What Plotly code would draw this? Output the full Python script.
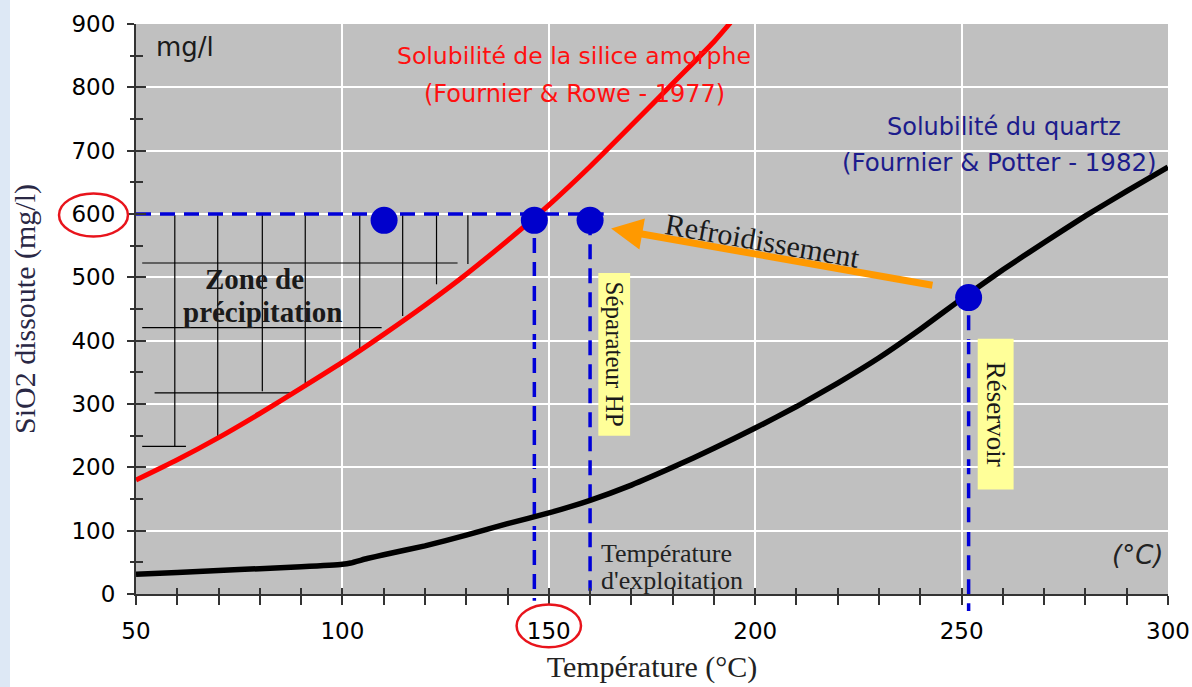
import plotly.graph_objects as go

# ---------------- data ----------------
amorph_T = [50, 60, 70, 80, 90, 100, 110, 120, 130, 140, 150, 160, 170, 180, 190, 194]
amorph_C = [180, 212, 247, 285, 325, 366, 410, 456, 505, 558, 614, 675, 740, 806, 872, 902]

quartz_T = [50, 60, 70, 80, 90, 100, 102, 106, 110, 120, 130, 140, 150, 160, 170, 180,
            190, 200, 210, 220, 230, 240, 250, 260, 270, 280, 290, 300]
quartz_C = [31, 34, 37, 40, 43, 47, 49, 56, 62, 76, 93, 111, 128, 148, 172, 200,
            230, 262, 296, 333, 373, 418, 466, 512, 555, 597, 636, 674]

point_T = [110.1, 146.5, 160.0, 251.7]
point_C = [590, 590, 590, 468]

level_C = 600           # dashed horizontal level
level_T_end = 163.3

# hatch of the precipitation zone
hatch_v_T = [59.4, 69.8, 80.6, 91.0, 104.2, 114.6, 122.8, 130.4]
hatch_v_bottom = [233, 248, 320, 333, 387, 439, 489, 521]
hatch_v_top = 598
hatch_h_C = [522.6, 420.5, 317.7, 233.2]
hatch_h_T0 = [51.5, 51.5, 54.5, 51.5]
hatch_h_T1 = [127.9, 109.5, 88.5, 62.1]

x_ticks = [50, 100, 150, 200, 250, 300]
y_ticks = [0, 100, 200, 300, 400, 500, 600, 700, 800, 900]

SERIF = "Liberation Serif"
SANS = "DejaVu Sans"
BLUE = "#0000d8"

fig = go.Figure()

# hatch lines
hx, hy = [], []
for t, yb in zip(hatch_v_T, hatch_v_bottom):
    hx += [t, t, None]
    hy += [hatch_v_top, yb, None]
for c, t0, t1 in zip(hatch_h_C, hatch_h_T0, hatch_h_T1):
    hx += [t0, t1, None]
    hy += [c, c, None]
fig.add_trace(go.Scatter(x=hx, y=hy, mode="lines", line=dict(color="black", width=1.2),
                         hoverinfo="skip"))

# horizontal dashed level
fig.add_trace(go.Scatter(x=[50, level_T_end], y=[level_C, level_C], mode="lines",
                         line=dict(color=BLUE, width=3.5, dash="15px,9px"), hoverinfo="skip"))

# curves
fig.add_trace(go.Scatter(x=amorph_T, y=amorph_C, mode="lines", name="Silice amorphe",
                         line=dict(color="#ff0000", width=5, shape="spline", smoothing=0.6)))
fig.add_trace(go.Scatter(x=quartz_T, y=quartz_C, mode="lines", name="Quartz",
                         line=dict(color="black", width=5.5, shape="spline", smoothing=0.4)))

# points
fig.add_trace(go.Scatter(x=point_T, y=point_C, mode="markers",
                         marker=dict(color="#0000cc", size=27), cliponaxis=False))

# invisible trace for the overlay (inside tick) axes
fig.add_trace(go.Scatter(x=[50], y=[0], xaxis="x2", yaxis="y2", mode="markers",
                         marker=dict(opacity=0), hoverinfo="skip"))

# vertical dashed lines (shapes so they can pass below the axis)
ext = {146.5: (level_C, -0.012), 160.0: (590, None), 251.7: (440, -0.03)}
for t, c in zip(point_T[1:], point_C[1:]):
    top, bottom_paper = ext[t]
    if bottom_paper is None:
        fig.add_shape(type="line", xref="x", yref="y", x0=t, x1=t, y0=top, y1=5,
                      line=dict(color=BLUE, width=3.5, dash="15px,9px"), layer="between")
    else:
        fig.add_shape(type="line", xref="x", yref="paper", x0=t, x1=t,
                      y0=top / 900, y1=bottom_paper,
                      line=dict(color=BLUE, width=3.5, dash="15px,9px"), layer="between")

# yellow label boxes
fig.add_shape(type="rect", xref="x", yref="y", x0=162.0, x1=169.7, y0=250, y1=507,
              fillcolor="#ffff99", line=dict(width=0), layer="above")
fig.add_shape(type="rect", xref="x", yref="y", x0=253.9, x1=262.6, y0=165, y1=403,
              fillcolor="#ffff99", line=dict(width=0), layer="above")

# red ellipses around 600 and 150
fig.add_shape(type="circle", xref="paper", yref="paper", x0=-0.0746, x1=-0.0078,
              y0=0.6272, y1=0.7026, line=dict(color="#e8141c", width=2.5), layer="above")
fig.add_shape(type="circle", xref="paper", yref="paper", x0=0.3688, x1=0.4312,
              y0=-0.0933, y1=-0.0184, line=dict(color="#e8141c", width=2.5), layer="above")

# light blue strip on the left edge
fig.add_shape(type="rect", xref="paper", yref="paper", x0=-0.1318, x1=-0.1221,
              y0=-0.164, y1=1.042, fillcolor="#dde8f5", line=dict(width=0), layer="below")

ann = []
def A(x, y, text, size, color="#1a1a1a", family=SERIF, xanchor="center", angle=0, style="normal"):
    ann.append(dict(x=x, y=y, xref="x", yref="y", text=text, showarrow=False,
                    xanchor=xanchor, yanchor="middle", textangle=angle,
                    font=dict(family=family, size=size, color=color, style=style)))

A(54.3, 863, "mg/l", 26, "#1a1a1a", SANS, xanchor="left")
A(156.2, 849, "Solubilité de la silice amorphe", 23.5, "#ff1010", SANS)
A(156.2, 789, "(Fournier &amp; Rowe - 1977)", 24, "#ff1010", SANS)
A(260.2, 737, "Solubilité du quartz", 24, "#1c1c8c", SANS)
A(259.2, 681, "(Fournier &amp; Potter - 1982)", 24.5, "#1c1c8c", SANS)
A(78.8, 496.6, "<b>Zone de</b>", 29)
A(80.7, 444.5, "<b>précipitation</b>", 29)
A(165.9, 379, "Séparateur HP", 25, angle=90)
A(258.2, 284, "Réservoir", 27, angle=90)
A(162.2, 64, "Température", 26, "#222222", xanchor="left")
A(162.2, 21, "d'exploitation", 26, "#222222", xanchor="left")
A(299.3, 61, "(°C)", 26, "#222222", SANS, xanchor="right", style="italic")
A(201.8, 558, "Refroidissement", 30, angle=10)

# arrow
ann.append(dict(x=165.1, y=577, ax=243.3, ay=487, xref="x", yref="y", axref="x", ayref="y",
                text="", showarrow=True, arrowhead=2, arrowsize=0.9, arrowwidth=7,
                arrowcolor="#ff9900", standoff=0, startstandoff=0))

axis_line = "#333333"
fig.update_layout(
    width=1192, height=687,
    margin=dict(l=136, r=24, t=24, b=93, autoexpand=False),
    paper_bgcolor="white", plot_bgcolor="#c0c0c0",
    showlegend=False, annotations=ann,
    xaxis=dict(range=[50, 300], tickvals=x_ticks, showgrid=True, gridcolor="white", gridwidth=1.5,
               zeroline=False, showline=True, linecolor=axis_line, linewidth=2,
               ticks="outside", ticklen=9, tickwidth=1.5, tickcolor=axis_line,
               ticklabelstandoff=6, ticklabeloverflow="allow",
               minor=dict(dtick=10, tick0=50, ticks="outside", ticklen=9, tickwidth=1.5,
                          tickcolor=axis_line, showgrid=False),
               tickfont=dict(family=SANS, size=23, color="black"),
               title=dict(text="Température (°C)", standoff=13,
                          font=dict(family=SERIF, size=30, color="#222222"))),
    yaxis=dict(range=[0, 900], tickvals=y_ticks, showgrid=True, gridcolor="white", gridwidth=1.5,
               zeroline=False, showline=True, linecolor=axis_line, linewidth=2,
               ticks="outside", ticklen=7, tickwidth=1.5, tickcolor=axis_line,
               ticklabelstandoff=7, ticklabeloverflow="allow",
               minor=dict(dtick=50, tick0=0, ticks="outside", ticklen=4, tickwidth=1.5,
                          tickcolor=axis_line, showgrid=False),
               tickfont=dict(family=SANS, size=23, color="black"),
               title=dict(text="SiO2 dissoute (mg/l)", standoff=27,
                          font=dict(family=SERIF, size=30, color="#2a2845"))),
    xaxis2=dict(overlaying="x", matches="x", anchor="y2", side="bottom", showgrid=False,
                zeroline=False, showline=False, showticklabels=False,
                tickvals=x_ticks, ticks="inside", ticklen=6, tickwidth=1.5, tickcolor=axis_line,
                minor=dict(dtick=10, tick0=50, ticks="inside", ticklen=6, tickwidth=1.5,
                           tickcolor=axis_line, showgrid=False)),
    yaxis2=dict(overlaying="y", matches="y", anchor="x2", side="left", showgrid=False,
                zeroline=False, showline=False, showticklabels=False,
                tickvals=y_ticks, ticks="inside", ticklen=10, tickwidth=1.5, tickcolor=axis_line,
                minor=dict(dtick=50, tick0=0, ticks="inside", ticklen=7, tickwidth=1.5,
                           tickcolor=axis_line, showgrid=False)),
)

fig.write_html("out.html", config={"displayModeBar": False},
               post_script="document.body.style.margin='0';")
